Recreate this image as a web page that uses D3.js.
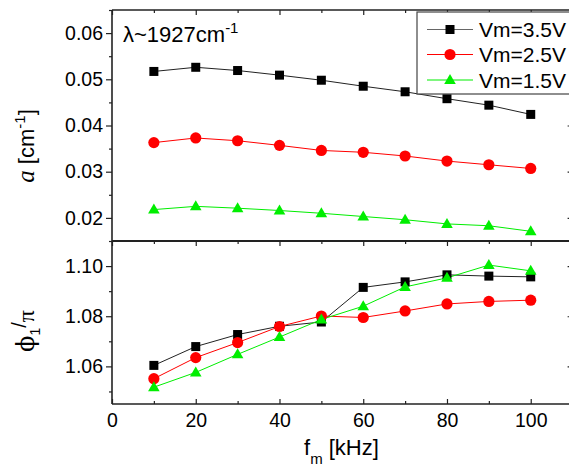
<!DOCTYPE html>
<html><head><meta charset="utf-8">
<script src="https://cdn.jsdelivr.net/npm/d3@7"></script>
<style>
html,body{margin:0;padding:0;background:#fff;}
text{font-family:"Liberation Sans",Arial,sans-serif;fill:#000;}
</style></head>
<body><svg id="c" width="569" height="469"></svg>
<script>
const freqs = [10,20,30,40,50,60,70,80,90,100];
const seriesNames = ["Vm=3.5V","Vm=2.5V","Vm=1.5V"];
const alpha35 = [0.0517,0.0526,0.0519,0.0509,0.0498,0.0485,0.0473,0.0458,0.0444,0.0424];
const alpha25 = [0.0363,0.0373,0.0367,0.0357,0.0346,0.0342,0.0334,0.0323,0.0315,0.0307];
const alpha15 = [0.0218,0.0225,0.0221,0.0216,0.0210,0.0203,0.0196,0.0187,0.0183,0.0171];
const phi35 = [1.0604,1.0679,1.0727,1.0760,1.0777,1.0915,1.0937,1.0965,1.0960,1.0957];
const phi25 = [1.0551,1.0635,1.0695,1.0759,1.0801,1.0795,1.0821,1.0849,1.0859,1.0864];
const phi15 = [1.0517,1.0576,1.0648,1.0717,1.0787,1.0840,1.0917,1.0953,1.1004,1.0981];
const xTicks = [0,20,40,60,80,100];
const xMinor = [10,30,50,70,90,110];
const topTicks = [0.02,0.03,0.04,0.05,0.06];
const topMinor = [0.015,0.025,0.035,0.045,0.055,0.065];
const botTicks = [1.06,1.08,1.10];
const botMinor = [1.05,1.07,1.09];
const colors = ["#000000","#ff0000","#00ee00"];
const lineColors = ["#222222","#ff0000","#00ee00"];
const shapes = ["square","circle","triangle"];

const svg = d3.select("#c");
const x = d3.scaleLinear().domain([0,110]).range([112,572.6]);
const yT = d3.scaleLinear().domain([0.015,0.065]).range([241,10]);
const yB = d3.scaleLinear().domain([1.045,1.11]).range([404,241]);
const L = 112, R = 572.6, T = 10, M = 241, B = 404;
const axisCol = "#222";

function marker(g, shape, cx, cy, col){
  if(shape==="square") g.append("rect").attr("x",cx-4.5).attr("y",cy-4.5).attr("width",9).attr("height",9).attr("fill",col);
  else if(shape==="circle") g.append("circle").attr("cx",cx).attr("cy",cy).attr("r",5.6).attr("fill",col);
  else g.append("path").attr("d",`M${cx},${cy-6}L${cx+5.8},${cy+4}L${cx-5.8},${cy+4}Z`).attr("fill",col);
}

function drawSeries(yS, arrs){
  arrs.forEach((arr,i)=>{
    const line = d3.line().x((d,j)=>x(freqs[j])).y(d=>yS(d));
    svg.append("path").attr("d",line(arr)).attr("fill","none").attr("stroke",lineColors[i]).attr("stroke-width",1);
  });
  arrs.forEach((arr,i)=>{
    const g = svg.append("g");
    arr.forEach((v,j)=>marker(g,shapes[i],x(freqs[j]),yS(v),colors[i]));
  });
}
drawSeries(yT,[alpha35,alpha25,alpha15]);
drawSeries(yB,[phi35,phi25,phi15]);

// frame lines
const fr = svg.append("g").attr("stroke",axisCol);
fr.append("line").attr("x1",L).attr("x2",L).attr("y1",T).attr("y2",B).attr("stroke-width",1.6);
fr.append("line").attr("x1",R).attr("x2",R).attr("y1",T).attr("y2",B).attr("stroke-width",1.6);
fr.append("line").attr("x1",L).attr("x2",R).attr("y1",T).attr("y2",T).attr("stroke-width",1.6);
fr.append("line").attr("x1",L).attr("x2",R).attr("y1",M).attr("y2",M).attr("stroke-width",2.2);
fr.append("line").attr("x1",L).attr("x2",R).attr("y1",B).attr("y2",B).attr("stroke-width",1.6);

// left axes via d3 axes
const fmtT = d3.format(".2f");
svg.append("g").attr("transform",`translate(${L},0)`)
  .call(d3.axisLeft(yT).tickValues(topTicks).tickFormat(fmtT).tickSize(6).tickPadding(3));
svg.append("g").attr("transform",`translate(${L},0)`)
  .call(d3.axisLeft(yT).tickValues(topMinor).tickFormat("").tickSize(3));
svg.append("g").attr("transform",`translate(${L},0)`)
  .call(d3.axisLeft(yB).tickValues(botTicks).tickFormat(fmtT).tickSize(6).tickPadding(3));
svg.append("g").attr("transform",`translate(${L},0)`)
  .call(d3.axisLeft(yB).tickValues(botMinor).tickFormat("").tickSize(3));
// right axes (inward)
svg.append("g").attr("transform",`translate(${R},0)`).call(d3.axisRight(yT).tickValues(topTicks).tickFormat("").tickSize(-5));
svg.append("g").attr("transform",`translate(${R},0)`).call(d3.axisRight(yT).tickValues(topMinor).tickFormat("").tickSize(-3));
svg.append("g").attr("transform",`translate(${R},0)`).call(d3.axisRight(yB).tickValues(botTicks).tickFormat("").tickSize(-5));
svg.append("g").attr("transform",`translate(${R},0)`).call(d3.axisRight(yB).tickValues(botMinor).tickFormat("").tickSize(-3));
// bottom axis (inward ticks)
svg.append("g").attr("transform",`translate(0,${B})`)
  .call(d3.axisBottom(x).tickValues(xTicks).tickFormat(d3.format("d")).tickSize(-5).tickPadding(9));
svg.append("g").attr("transform",`translate(0,${B})`).call(d3.axisBottom(x).tickValues(xMinor).tickFormat("").tickSize(-3));
// divider ticks (into bottom panel) and top ticks
svg.append("g").attr("transform",`translate(0,${M})`).call(d3.axisTop(x).tickValues(xTicks).tickFormat("").tickSize(-5));
svg.append("g").attr("transform",`translate(0,${M})`).call(d3.axisTop(x).tickValues(xMinor).tickFormat("").tickSize(-3));
svg.append("g").attr("transform",`translate(0,${T})`).call(d3.axisTop(x).tickValues(xTicks).tickFormat("").tickSize(-5));
svg.append("g").attr("transform",`translate(0,${T})`).call(d3.axisTop(x).tickValues(xMinor).tickFormat("").tickSize(-3));

svg.selectAll(".domain").remove();
svg.selectAll(".tick line").attr("stroke",axisCol).attr("stroke-width",1.2);
svg.selectAll(".tick text").attr("font-family","Liberation Sans, Arial, sans-serif").attr("font-size",19.5).attr("fill","#000");

// legend
const lg = svg.append("g");
lg.append("rect").attr("x",417).attr("y",12).attr("width",170).attr("height",82).attr("fill","#fff").attr("stroke","#444").attr("stroke-width",1.2);
const rowY = [29.5,54.5,80];
seriesNames.forEach((n,i)=>{
  lg.append("line").attr("x1",427).attr("x2",473).attr("y1",rowY[i]).attr("y2",rowY[i]).attr("stroke",i===0?"#666":lineColors[i]).attr("stroke-width",1.2);
  marker(lg,shapes[i],450,rowY[i],colors[i]);
  lg.append("text").attr("x",479).attr("y",rowY[i]+7.5).attr("font-size",21).text(n);
});

// lambda annotation
const lam = svg.append("text").attr("x",123).attr("y",42).attr("font-size",22);
lam.append("tspan").text("λ~1927cm");
lam.append("tspan").attr("dy",-9).attr("font-size",15).text("-1");

// y labels
const yl1 = svg.append("text").attr("transform","translate(34,146) rotate(-90)").attr("text-anchor","middle").attr("font-size",22);
yl1.append("tspan").attr("font-style","italic").attr("font-family","Liberation Serif, Times New Roman, serif").attr("font-size",25).text("a");
yl1.append("tspan").text(" [cm");
yl1.append("tspan").attr("dy",-9).attr("font-size",15).text("-1");
yl1.append("tspan").attr("dy",9).text("]");

const yl2 = svg.append("text").attr("transform","translate(34,331) rotate(-90)").attr("text-anchor","middle").attr("font-size",24);
yl2.append("tspan").attr("font-family","DejaVu Serif, serif").text("ϕ");
yl2.append("tspan").attr("dy",6).attr("font-size",14).text("1");
yl2.append("tspan").attr("dy",-14).attr("font-size",20).text("/");
yl2.append("tspan").attr("dy",8).attr("font-family","Liberation Serif, serif").text("π");

// x label
const xl = svg.append("text").attr("x",304).attr("y",455).attr("font-size",22);
xl.append("tspan").text("f");
xl.append("tspan").attr("dy",9).attr("font-size",15).text("m");
xl.append("tspan").attr("dy",-9).text(" [kHz]");
</script></body></html>
